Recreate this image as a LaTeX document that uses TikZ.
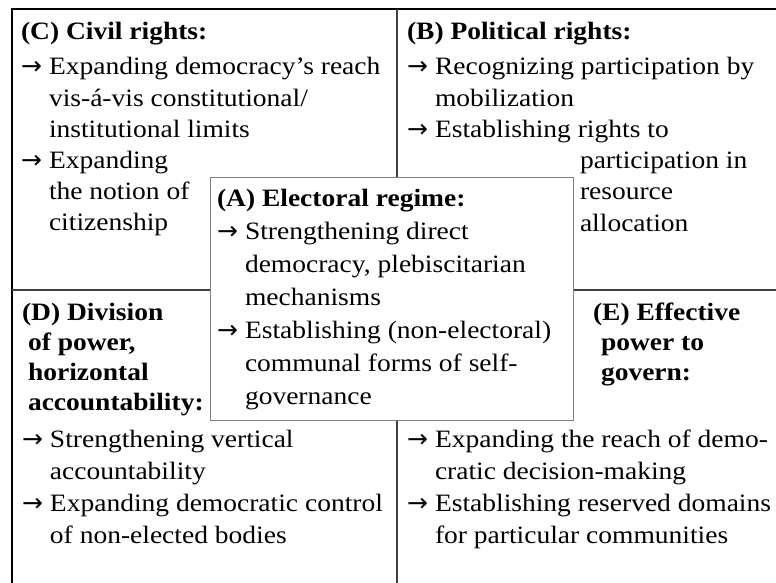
\documentclass[tikz,border=0pt]{standalone}
\usepackage{fontspec}
\setmainfont{Liberation Serif}[FakeStretch=1.1]
\newfontfamily\arrowfont{DejaVu Sans}
\newlength\arw
\setlength\arw{28pt}
\newcommand\arrowbullet{\makebox[\arw][l]{\arrowfont →}}
\newcommand\itm{\par\hangindent=\arw\hangafter=1\noindent\arrowbullet}
\newcommand\ttl[2]{\par\hangindent=#1\hangafter=1\noindent\textbf{#2}}
\newcommand\bodyfont[1]{\fontsize{25pt}{#1}\selectfont\parindent=0pt\parskip=0pt}
\begin{document}
\begin{tikzpicture}[x=1pt,y=-1pt,
  frame/.style={line width=2.5pt, draw=black},
  divider/.style={line width=2pt, draw=black!75},
  abox/.style={draw=black!50, line width=1.3pt, fill=white, inner sep=0pt},
  txt/.style={anchor=base west, inner sep=0pt, outer sep=0pt}]
\useasboundingbox (0,0) rectangle (776,583);
\fill[white] (0,0) rectangle (776,583);
% frame and dividers
\draw[frame] (12,583) -- (12,9) -- (776,9);
\draw[divider] (397,9) -- (397,583);
\draw[divider] (12,290) -- (776,290);
% central box A
\node[abox, anchor=north west, minimum width=363pt, minimum height=243pt] (Abox) at (210,177) {};
% C
\node[txt] (Ct) at (21,39.5) {\parbox[t]{370pt}{\bodyfont{31.2pt}
  \ttl{0pt}{(C) Civil rights:}\par}};
\node[txt] (C) at (21,75) {\parbox[t]{370pt}{\bodyfont{31.2pt}
  \itm Expanding democracy’s reach\\vis-á-vis constitutional/\\institutional limits
  \itm Expanding\\the notion of\\citizenship\par}};
% B
\node[txt] (Bt) at (407,39.5) {\parbox[t]{380pt}{\bodyfont{31.2pt}
  \ttl{0pt}{(B) Political rights:}\par}};
\node[txt] (B) at (407,75) {\parbox[t]{380pt}{\bodyfont{31.2pt}
  \itm Recognizing participation by\\mobilization
  \itm Establishing rights to\par}};
\node[txt] (Bcont) at (580,168.6) {\parbox[t]{200pt}{\bodyfont{31.2pt}
  participation in\\resource\\allocation\par}};
% A
\node[txt] (A) at (217,206) {\parbox[t]{360pt}{\bodyfont{33pt}
  \ttl{0pt}{(A) Electoral regime:}
  \itm Strengthening direct\\democracy, plebiscitarian\\mechanisms
  \itm Establishing (non-electoral)\\communal forms of self-\\governance\par}};
% D
\node[txt] (Dt) at (22,320) {\parbox[t]{300pt}{\bodyfont{30pt}
  \ttl{6pt}{(D) Division\\of power,\\horizontal\\accountability:}\par}};
\node[txt] (D) at (22,447) {\parbox[t]{380pt}{\bodyfont{32pt}
  \itm Strengthening vertical\\accountability
  \itm Expanding democratic control\\of non-elected bodies\par}};
% E
\node[txt] (Et) at (593,320) {\parbox[t]{200pt}{\bodyfont{30pt}
  \ttl{8pt}{(E) Effective\\power to\\govern:}\par}};
\node[txt] (E) at (407,447) {\parbox[t]{400pt}{\bodyfont{32pt}
  \itm Expanding the reach of demo-\\cratic decision-making
  \itm Establishing reserved domains\\for particular communities\par}};
\end{tikzpicture}
\end{document}
